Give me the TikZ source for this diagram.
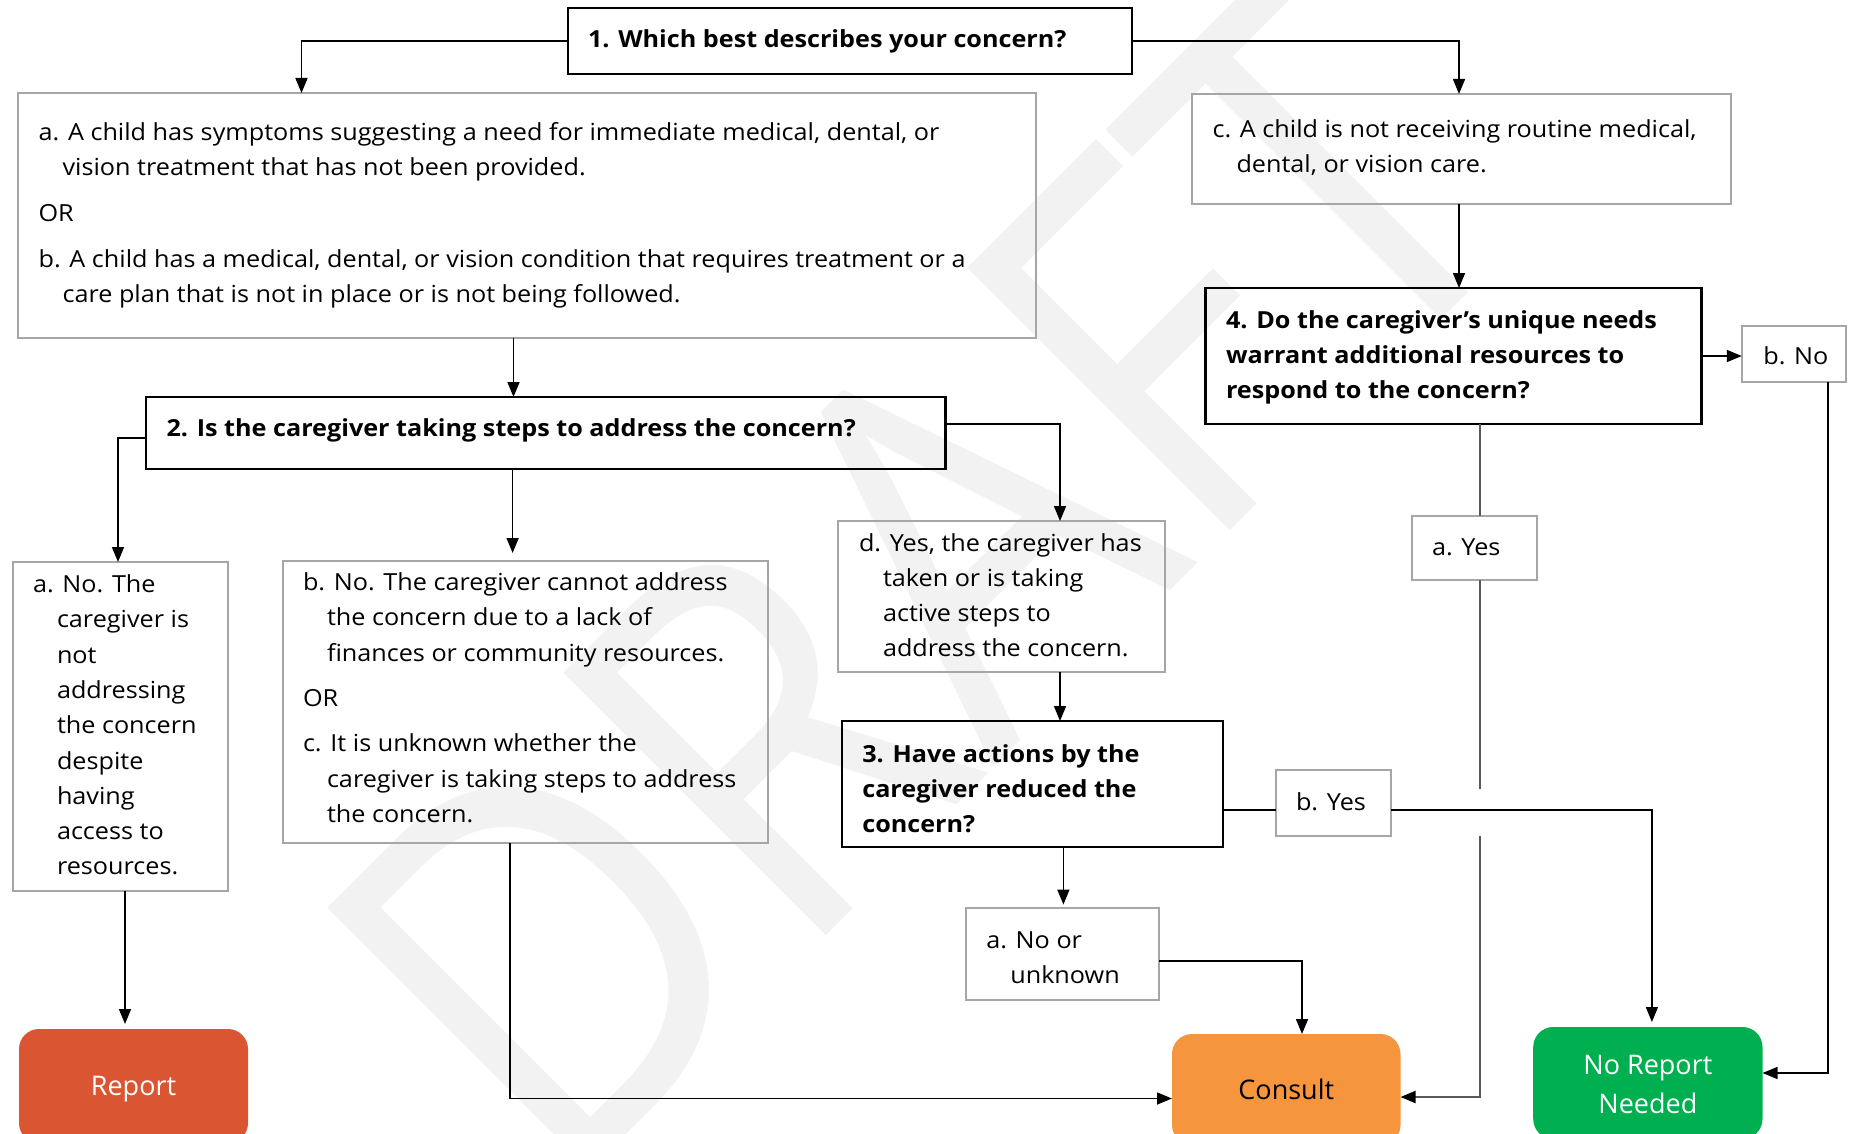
\documentclass[tikz,border=0pt]{standalone}
\usepackage{fontspec}
\setmainfont{Open Sans}
\newfontfamily\bodyfam{Open Sans}[FakeStretch=1.072]
\newfontfamily\wmfont{Open Sans}
\usetikzlibrary{arrows.meta,calc}
\definecolor{gbord}{HTML}{A6A6A6}
\definecolor{wm}{HTML}{F2F2F2}
\definecolor{repc}{HTML}{DA5532}
\definecolor{conc}{HTML}{F5963E}
\definecolor{norc}{HTML}{00B050}
\definecolor{dgray}{HTML}{595959}
\newcommand{\bodyfont}{\bodyfam\fontsize{23.5}{35.3}\selectfont}
\newcommand{\termfont}{\fontsize{27}{39}\selectfont}
\newcommand{\ind}{\hspace*{24pt}}
\newcommand{\mkbox}[6]{\node[#1, anchor=north west, minimum width={#5-#3}, minimum height={#6-#4}] (#2) at (#3,#4) {};}
\begin{document}
\begin{tikzpicture}[x=1pt,y=-1pt,
  qbox/.style={draw=black, line width=2.4pt, rectangle, inner sep=0pt, outer sep=0pt},
  obox/.style={draw=gbord, line width=2pt, rectangle, inner sep=0pt, outer sep=0pt},
  term/.style={rectangle, rounded corners=20pt, inner sep=0pt, outer sep=0pt, font=\termfont, align=center, anchor=north west},
  txt/.style={anchor=base west, inner sep=0pt, outer sep=0pt, font=\bodyfont},
  conn/.style={draw=black, line width=1.6pt},
  arr/.style={conn, -{Triangle[length=15pt,width=12pt]}},
  gline/.style={draw=dgray, line width=2pt},
  garr/.style={gline, -{Triangle[length=15pt,width=12pt,color=black]}}
]
\useasboundingbox (0,0) rectangle (1851,1134);
\clip (0,0) rectangle (1851,1134);
\fill[white] (0,0) rectangle (1851,1134);

% watermark
\begin{scope}[shift={(558,1203)}, rotate=45, xscale=0.88, transform shape]
\node[anchor=base west, inner sep=0pt, text=wm, font=\wmfont\fontsize{520}{520}\selectfont] (wmark) at (0,0) {DRAFT};
\end{scope}

% boxes
\mkbox{qbox}{b1}{568}{8}{1132}{74}
\mkbox{obox}{bA}{17.5}{93}{1036}{338}
\mkbox{obox}{bC}{1192}{94}{1731}{204}
\mkbox{qbox}{b4}{1205.4}{288}{1701.5}{424}
\mkbox{obox}{bNo}{1741.8}{326}{1845.7}{382}
\mkbox{obox}{aYes}{1412}{516}{1537}{580}
\mkbox{qbox}{b2}{146}{397}{945.5}{469}
\mkbox{obox}{b2a}{12.6}{562}{228}{890.6}
\mkbox{obox}{b2bc}{283}{561}{767.5}{843}
\mkbox{obox}{b2d}{837.5}{521}{1165.3}{672}
\mkbox{qbox}{b3}{842.2}{721}{1222.9}{847}
\mkbox{obox}{bYes}{1275.9}{770}{1390.5}{835.6}
\mkbox{obox}{aNo}{965.5}{907.6}{1158.6}{1000}

\node[term, fill=repc, text=white, minimum width=229, minimum height=114] (rep) at (19,1029) {\raisebox{-3.5pt}[\height][\depth]{Report}};
\node[term, fill=conc, text=black, minimum width=228.5, minimum height=111] (con) at (1172,1034) {Consult};
\node[term, fill=norc, text=white, minimum width=229.3, minimum height=112] (nor) at (1533.2,1027) {\raisebox{-3.5pt}[\height][\depth]{\begin{tabular}{@{}c@{}}No Report\\Needed\end{tabular}}};

% texts
\node[txt] (t1) at (588,47.5) {\bfseries 1. Which best describes your concern?};
\node[txt] (tA) at (38.6,140.5) {\begin{tabular}[t]{@{}l@{}}a. A child has symptoms suggesting a need for immediate medical, dental, or\\ \ind vision treatment that has not been provided.\\[10.5pt] OR\\[10.5pt] b. A child has a medical, dental, or vision condition that requires treatment or a\\ \ind care plan that is not in place or is not being followed.\end{tabular}};
\node[txt] (tC) at (1212.5,137.5) {\begin{tabular}[t]{@{}l@{}}c. A child is not receiving routine medical,\\ \ind dental, or vision care.\end{tabular}};
\node[txt] (t4) at (1226,328) {\bfseries\begin{tabular}[t]{@{}l@{}}4. Do the caregiver’s unique needs\\ warrant additional resources to\\ respond to the concern?\end{tabular}};
\node[txt] (tNo) at (1763.3,364) {b. No};
\node[txt] (tYes) at (1432,555.5) {a. Yes};
\node[txt] (t2) at (166.5,436.5) {\bfseries 2. Is the caregiver taking steps to address the concern?};
\node[txt] (t2a) at (33,592.5) {\begin{tabular}[t]{@{}l@{}}a. No. The\\ \ind caregiver is\\ \ind not\\ \ind addressing\\ \ind the concern\\ \ind despite\\ \ind having\\ \ind access to\\ \ind resources.\end{tabular}};
\node[txt] (t2bc) at (303,590.5) {\begin{tabular}[t]{@{}l@{}}b. No. The caregiver cannot address\\ \ind the concern due to a lack of\\ \ind finances or community resources.\\[10pt] OR\\[10pt] c. It is unknown whether the\\ \ind caregiver is taking steps to address\\ \ind the concern.\end{tabular}};
\node[txt] (t2d) at (859,551) {\begin{tabular}[t]{@{}l@{}}d. Yes, the caregiver has\\ \ind taken or is taking\\ \ind active steps to\\ \ind address the concern.\end{tabular}};
\node[txt] (t3) at (862.3,762) {\bfseries\begin{tabular}[t]{@{}l@{}}3. Have actions by the\\ caregiver reduced the\\ concern?\end{tabular}};
\node[txt] (tbYes) at (1296,810) {b. Yes};
\node[txt] (taNo) at (986.3,948.5) {\begin{tabular}[t]{@{}l@{}}a. No or\\ \ind unknown\end{tabular}};

% connectors
\coordinate (p1) at ($(bA.north west)+(284,0)$);
\draw[arr] (b1.west) -| (p1);
\coordinate (p2) at ($(bC.north west)+(267,0)$);
\draw[arr] (b1.east) -| (p2);
\coordinate (p3) at ($(bA.south west)+(496,0)$);
\draw[arr] (p3) -- (p3 |- b2.north);
\coordinate (p4) at ($(bC.south west)+(267,0)$);
\draw[arr] (p4) -- (p4 |- b4.north);
\coordinate (p5) at ($(b2.west)+(0,5)$);
\coordinate (p5b) at ($(b2a.north west)+(105.4,0)$);
\draw[arr] (p5) -| (p5b);
\coordinate (p6) at ($(b2.south west)+(366.6,0)$);
\draw[arr, shorten >=8pt] (p6) -- (p6 |- b2bc.north);
\coordinate (p7) at ($(b2.east)+(0,-9)$);
\coordinate (p7b) at ($(b2d.north west)+(222.5,0)$);
\draw[arr] (p7) -| (p7b);
\coordinate (p8) at ($(b2d.south west)+(222.5,0)$);
\draw[arr] (p8) -- (p8 |- b3.north);
\coordinate (p9) at ($(b3.south west)+(221.2,0)$);
\draw[arr, shorten >=3pt] (p9) -- (p9 |- aNo.north);
\coordinate (p10) at ($(bYes.west)+(0,7)$);
\draw[conn] (b3.east |- p10) -- (p10);
\coordinate (p11) at ($(bYes.east)+(0,7)$);
\coordinate (p11b) at ($(nor.north west)+(118.7,0)$);
\draw[arr, shorten >=5pt] (p11) -| (p11b);
\coordinate (p12) at ($(aNo.east)+(0,7)$);
\coordinate (p12b) at ($(con.north west)+(130,0)$);
\draw[arr] (p12) -| (p12b);
\coordinate (p13) at ($(b2bc.south west)+(227,0)$);
\coordinate (p13b) at ($(con.west)+(0,9)$);
\draw[arr] (p13) |- (p13b);
\coordinate (p14) at ($(b4.south west)+(274.6,0)$);
\draw[gline] (p14) -- (p14 |- aYes.north);
\coordinate (p15) at ($(aYes.south west)+(68.3,0)$);
\coordinate (g1) at ($(p10)+(0,-21)$);
\coordinate (g2) at ($(p10)+(0,26)$);
\draw[gline] (p15) -- (p15 |- g1);
\coordinate (p16) at ($(con.east)+(0,7.5)$);
\draw[garr] (p15 |- g2) |- (p16);
\draw[arr] (b4.east) -- (b4.east -| bNo.west);
\coordinate (p17) at ($(bNo.south west)+(86.2,0)$);
\coordinate (p17b) at ($(nor.east)+(0,-10)$);
\draw[arr] (p17) |- (p17b);
\coordinate (p18) at ($(b2a.south west)+(112.4,0)$);
\draw[arr, shorten >=5pt] (p18) -- (p18 |- rep.north);
\end{tikzpicture}
\end{document}
